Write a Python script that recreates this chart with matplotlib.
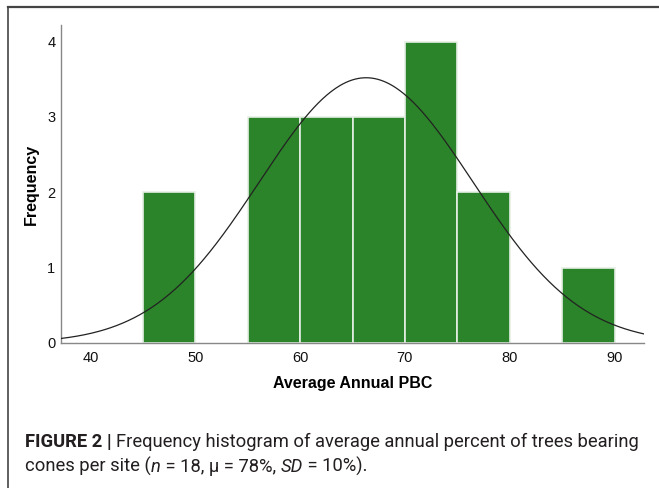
import numpy as np
import matplotlib
matplotlib.use("Agg")
import matplotlib.pyplot as plt
from matplotlib.lines import Line2D

plt.rcParams["font.family"] = ["Liberation Sans", "DejaVu Sans"]

# histogram data
bin_left = [45, 55, 60, 65, 70, 75, 85]
counts = [2, 3, 3, 3, 4, 2, 1]
bin_width = 5
n_sites = 18
# fitted normal curve
curve_mean = 66.3
curve_sd = 10.2

xticks = [40, 50, 60, 70, 80, 90]
yticks = [0, 1, 2, 3, 4]

fig = plt.figure(figsize=(6.59, 4.88), dpi=100)
ax = fig.add_axes([61 / 659, 1 - 343 / 488, (644 - 61) / 659, (343 - 25) / 488])

ax.bar(bin_left, counts, width=bin_width, align="edge", color="#2b8429",
       edgecolor="#e6efe5", linewidth=1.2, zorder=2)

xs = np.linspace(37.2, 92.8, 400)
ys = n_sites * bin_width * np.exp(-0.5 * ((xs - curve_mean) / curve_sd) ** 2) / (curve_sd * np.sqrt(2 * np.pi))
ax.plot(xs, ys, color="#222222", linewidth=0.9, zorder=3)

ax.set_xlim(37.2, 92.8)
ax.set_ylim(0, 4.22)
ax.set_xticks(xticks)
ax.set_yticks(yticks)
ax.tick_params(length=0, labelsize=10.5, colors="#111111")
ax.tick_params(axis="x", pad=6)
ax.tick_params(axis="y", pad=4)
for s in ["top", "right"]:
    ax.spines[s].set_visible(False)
for s in ["left", "bottom"]:
    ax.spines[s].set_color("#888888")
    ax.spines[s].set_linewidth(1.0)

ax.set_xlabel("Average Annual PBC", fontsize=11.5, fontweight="bold", labelpad=8)
ax.set_ylabel("Frequency", fontsize=11.5, fontweight="bold", labelpad=6)

# frame lines of the figure panel
fig.add_artist(Line2D([8 / 659, 1], [1 - 6.5 / 488, 1 - 6.5 / 488], transform=fig.transFigure,
                      color="#444444", linewidth=1.6))
fig.add_artist(Line2D([8 / 659, 8 / 659], [1 - 6.5 / 488, 0], transform=fig.transFigure,
                      color="#444444", linewidth=1.2))

# caption with mixed styles
cap_font = ["Roboto", "DejaVu Sans"]
cap_size = 13.2
cap_color = "#231f20"
lines = [
    [("FIGURE 2 | ", "bold", "normal"),
     ("Frequency histogram of average annual percent of trees bearing", "normal", "normal")],
    [("cones per site (", "normal", "normal"), ("n", "normal", "italic"),
     (" = 18, \u03bc = 78%, ", "normal", "normal"), ("SD", "normal", "italic"),
     (" = 10%).", "normal", "normal")],
]
renderer = fig.canvas.get_renderer()
baselines = [488 - 447, 488 - 472]
for parts, yb in zip(lines, baselines):
    x = 25.0
    for txt, weight, style in parts:
        t = fig.text(x / 659, yb / 488, txt, fontsize=cap_size, fontweight=weight,
                     fontstyle=style, family=cap_font, color=cap_color,
                     va="baseline", ha="left")
        bb = t.get_window_extent(renderer)
        x += bb.width

fig.savefig("out.png", dpi=100)
